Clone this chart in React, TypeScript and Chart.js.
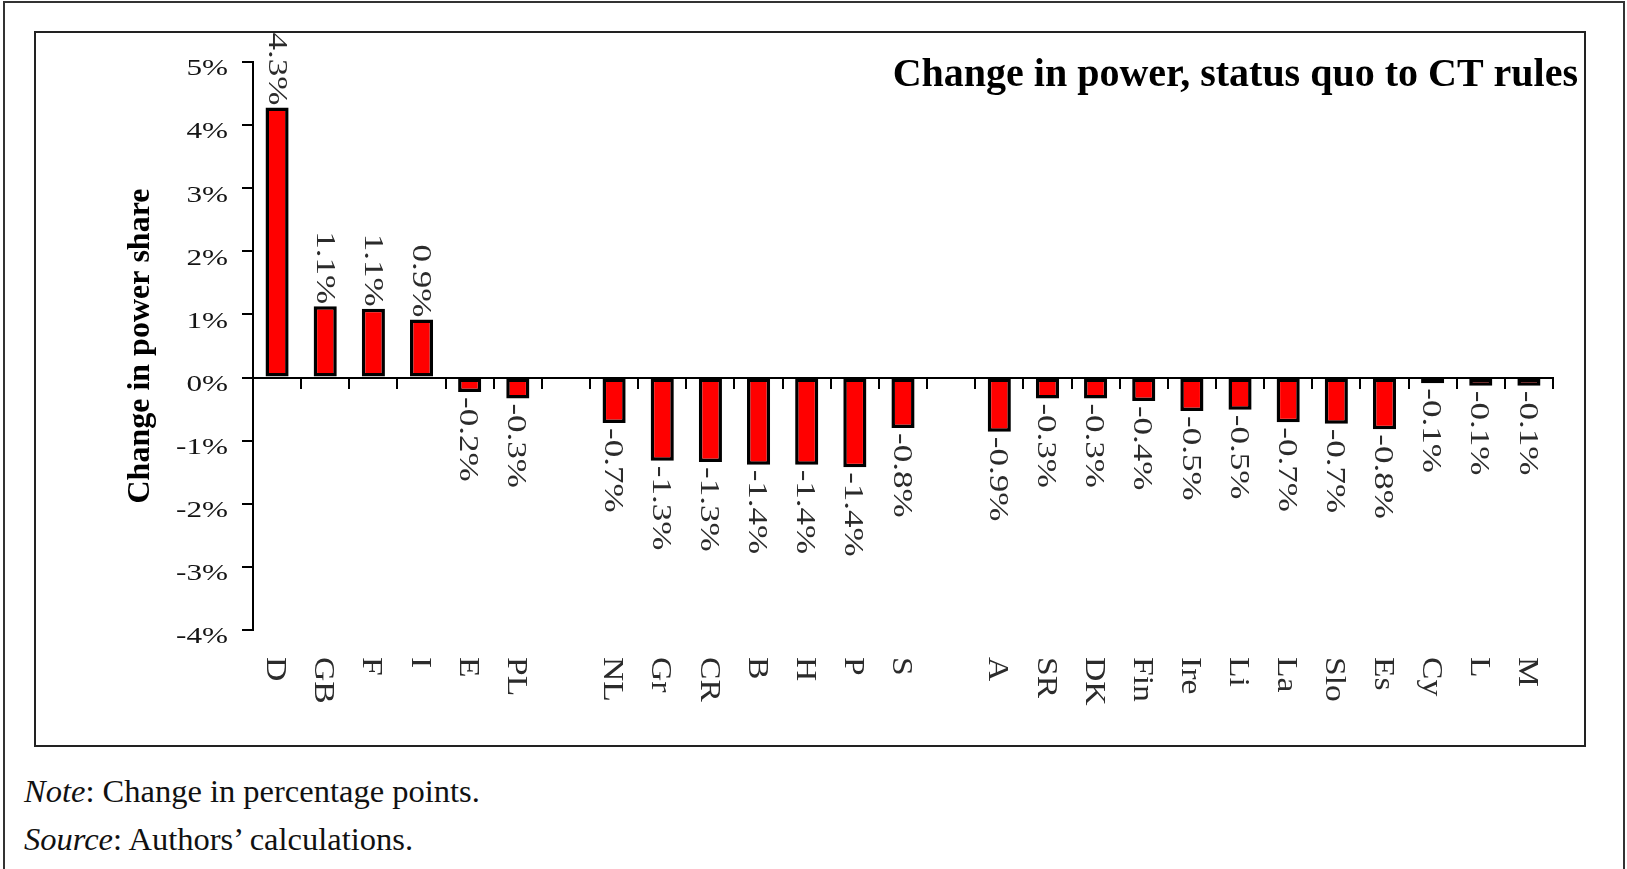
import React, { useEffect, useRef } from 'react';
import { Chart, registerables } from 'chart.js';

Chart.register(...registerables);

const SERIF = "'Liberation Serif', 'Times New Roman', Times, serif";

const categories = ['D', 'GB', 'F', 'I', 'E', 'PL', '', 'NL', 'Gr', 'CR', 'B', 'H', 'P', 'S', '', 'A', 'SR', 'DK', 'Fin', 'Ire', 'Li', 'La', 'Slo', 'Es', 'Cy', 'L', 'M'];
const powerChange = [4.28, 1.13, 1.09, 0.92, -0.23, -0.33, null, -0.72, -1.32, -1.34, -1.38, -1.38, -1.42, -0.8, null, -0.86, -0.33, -0.33, -0.37, -0.53, -0.51, -0.71, -0.73, -0.82, -0.09, -0.13, -0.13];
const valueLabels = ['4.3%', '1.1%', '1.1%', '0.9%', '-0.2%', '-0.3%', '', '-0.7%', '-1.3%', '-1.3%', '-1.4%', '-1.4%', '-1.4%', '-0.8%', '', '-0.9%', '-0.3%', '-0.3%', '-0.4%', '-0.5%', '-0.5%', '-0.7%', '-0.7%', '-0.8%', '-0.1%', '-0.1%', '-0.1%'];
const yMin = -4;
const yMax = 5;
const yStep = 1;
const chartTitle = 'Change in power, status quo to CT rules';
const yAxisTitle = 'Change in power share';

const rotatedLabelsPlugin = {
  id: 'rotatedLabels',
  afterDatasetsDraw(chart: any) {
    const ctx = chart.ctx;
    const meta = chart.getDatasetMeta(0);
    const yScale = chart.scales.y;
    const xScale = chart.scales.x;
    const area = chart.chartArea;
    ctx.save();

    // y tick labels (slightly wide lettering as in the original)
    ctx.fillStyle = '#151515';
    ctx.font = `24px ${SERIF}`;
    ctx.textAlign = 'right';
    ctx.textBaseline = 'middle';
    yScale.ticks.forEach((t: any) => {
      const py = yScale.getPixelForValue(t.value) + 7;
      ctx.save();
      ctx.translate(area.left - 25, py);
      ctx.scale(1.3, 1);
      ctx.fillText(`${t.value}%`, 0, 0);
      ctx.restore();
    });

    // value labels
    ctx.fillStyle = '#2b2b2b';
    ctx.font = `28px ${SERIF}`;
    meta.data.forEach((bar: any, i: number) => {
      const v = powerChange[i];
      if (v === null || v === undefined) return;
      const yEnd = yScale.getPixelForValue(v);
      ctx.save();
      if (v >= 0) {
        ctx.translate(bar.x - 1, yEnd - 2);
        ctx.rotate(Math.PI / 2);
        ctx.textAlign = 'right';
      } else {
        ctx.translate(bar.x - 2, yEnd + 5);
        ctx.rotate(Math.PI / 2);
        ctx.textAlign = 'left';
      }
      ctx.scale(1.25, 1);
      ctx.fillText(valueLabels[i], 0, 0);
      ctx.restore();
    });

    // category labels
    ctx.font = `30px ${SERIF}`;
    categories.forEach((c, i) => {
      if (!c) return;
      const px = xScale.getPixelForValue(i);
      ctx.save();
      ctx.translate(px - 2, area.bottom + 27);
      ctx.rotate(Math.PI / 2);
      ctx.scale(1.12, 1);
      ctx.textAlign = 'left';
      ctx.fillText(c, 0, 0);
      ctx.restore();
    });

    // chart title
    ctx.fillStyle = '#000';
    ctx.font = `bold 40px ${SERIF}`;
    ctx.textAlign = 'right';
    ctx.textBaseline = 'alphabetic';
    ctx.fillText(chartTitle, chart.width - 6, 53);
    ctx.restore();
  },
};

export default function App() {
  const canvasRef = useRef<HTMLCanvasElement | null>(null);

  useEffect(() => {
    if (!canvasRef.current) return;
    const chart = new Chart(canvasRef.current, {
      type: 'bar',
      data: {
        labels: categories,
        datasets: [
          {
            data: powerChange as any,
            backgroundColor: '#ff0000',
            borderColor: '#000000',
            borderWidth: 3.5,
            borderSkipped: false,
            barPercentage: 0.48,
            categoryPercentage: 1,
          },
        ],
      },
      options: {
        responsive: false,
        animation: false,
        devicePixelRatio: 1,
        layout: { padding: { left: 80, right: 31, top: 29, bottom: 115 } },
        plugins: {
          legend: { display: false },
          tooltip: { enabled: false },
          title: { display: false },
        },
        scales: {
          x: {
            type: 'category',
            position: { y: 0 } as any,
            offset: true,
            grid: {
              display: true,
              offset: true,
              drawOnChartArea: false,
              drawTicks: true,
              tickLength: 10,
              color: '#000',
              lineWidth: 2,
            },
            border: { display: true, color: '#000', width: 2 },
            ticks: { display: false },
          },
          y: {
            min: yMin,
            max: yMax,
            ticks: {
              stepSize: yStep,
              callback: (v: any) => `${v}%`,
              font: { family: SERIF, size: 24 },
              color: 'rgba(0,0,0,0)',
              padding: 14,
            },
            grid: {
              drawOnChartArea: false,
              drawTicks: true,
              tickLength: 11,
              color: '#000',
              lineWidth: 2,
            },
            border: { display: true, color: '#000', width: 2 },
            title: {
              display: true,
              text: yAxisTitle,
              font: { family: SERIF, size: 32, weight: 'bold' },
              color: '#000',
              padding: { top: 6, bottom: 0 },
            },
            afterFit: (s: any) => {
              s.width = 137;
            },
          },
        },
      },
      plugins: [rotatedLabelsPlugin],
    } as any);
    return () => chart.destroy();
  }, []);

  return (
    <div
      style={{
        position: 'fixed',
        left: 0,
        top: 0,
        width: 1627,
        height: 869,
        background: '#fff',
        overflow: 'hidden',
        fontFamily: SERIF,
        color: '#111',
      }}
    >
      <div
        style={{
          position: 'absolute',
          left: 3,
          top: 1,
          width: 1622,
          height: 900,
          border: '2px solid #333',
          boxSizing: 'border-box',
        }}
      />
      <div
        style={{
          position: 'absolute',
          left: 34,
          top: 31,
          width: 1552,
          height: 716,
          border: '2px solid #222',
          boxSizing: 'border-box',
        }}
      >
        <canvas ref={canvasRef} width={1548} height={712} style={{ display: 'block', width: 1548, height: 712 }} />
      </div>
      <div style={{ position: 'absolute', left: 24, top: 767, fontSize: 32.5, lineHeight: '48px', whiteSpace: 'nowrap' }}>
        <div>
          <i>Note</i>: Change in percentage points.
        </div>
        <div>
          <i>Source</i>: Authors’ calculations.
        </div>
      </div>
    </div>
  );
}
